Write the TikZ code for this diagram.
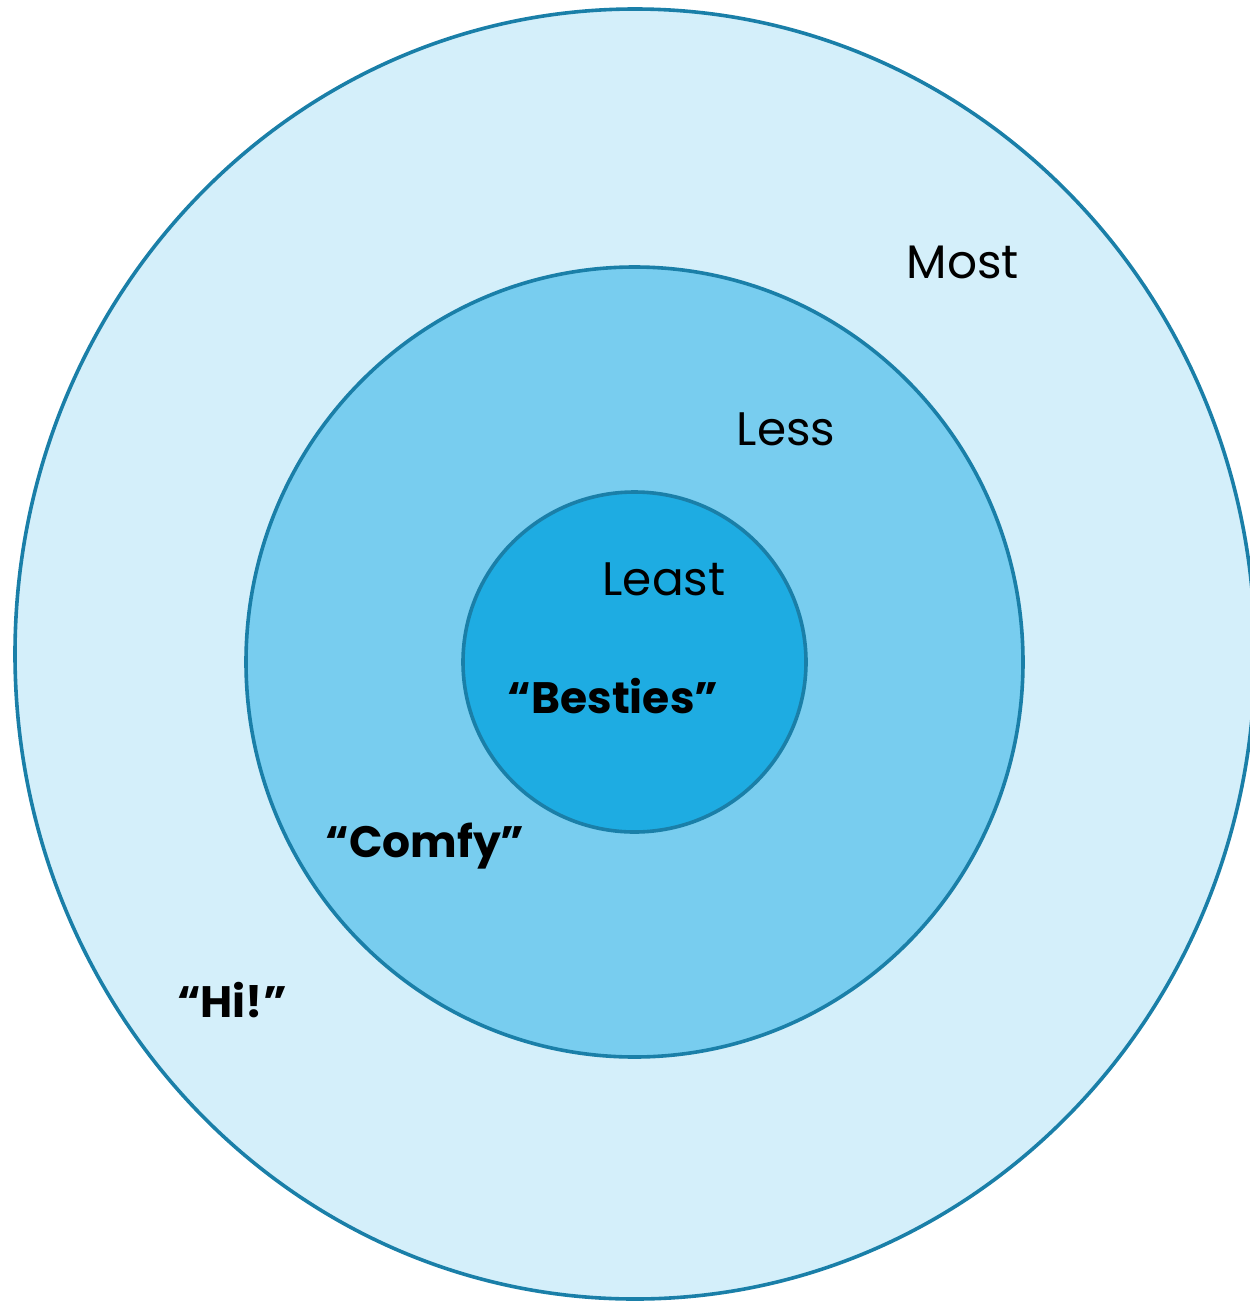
\documentclass[tikz,border=0pt]{standalone}
\usepackage{fontspec}
\setmainfont{Poppins}
\usetikzlibrary{shapes.geometric}
\definecolor{ringline}{HTML}{1A7FA8}
\definecolor{ringpale}{HTML}{D4EFFA}
\definecolor{ringmid}{HTML}{78CDEF}
\definecolor{ringdeep}{HTML}{1EACE2}
\begin{document}
\begin{tikzpicture}[x=0.5pt,y=-0.5pt,
 ring/.style={ellipse,draw=ringline,line width=1.8pt,inner sep=0pt},
 lbl/.style={font=\fontsize{23.5}{28}\selectfont,anchor=base,inner sep=0pt},
 tag/.style={lbl,font=\fontsize{22}{26}\selectfont\bfseries}]
\useasboundingbox (0,0) rectangle (1249,1302);
% the three rings
\node[ring,fill=ringpale,minimum width=620pt,minimum height=645pt] (outer) at (635,654) {};
\node[ring,fill=ringmid,minimum width=388.5pt,minimum height=395pt] (middle) at (634.5,662) {};
\node[ring,fill=ringdeep,minimum width=171.5pt,minimum height=170pt] (inner) at (634.5,662) {};
% labels
\node[lbl] (most) at (963,278) {Most};
\node[lbl] (less) at (786,445) {Less};
\node[lbl] (least) at (664,595) {Least};
\node[tag] (besties) at (613,713) {“Besties”};
\node[tag] (comfy) at (425,857) {“Comfy”};
\node[tag] (hi) at (232,1017) {“Hi!”};
\end{tikzpicture}
\end{document}
